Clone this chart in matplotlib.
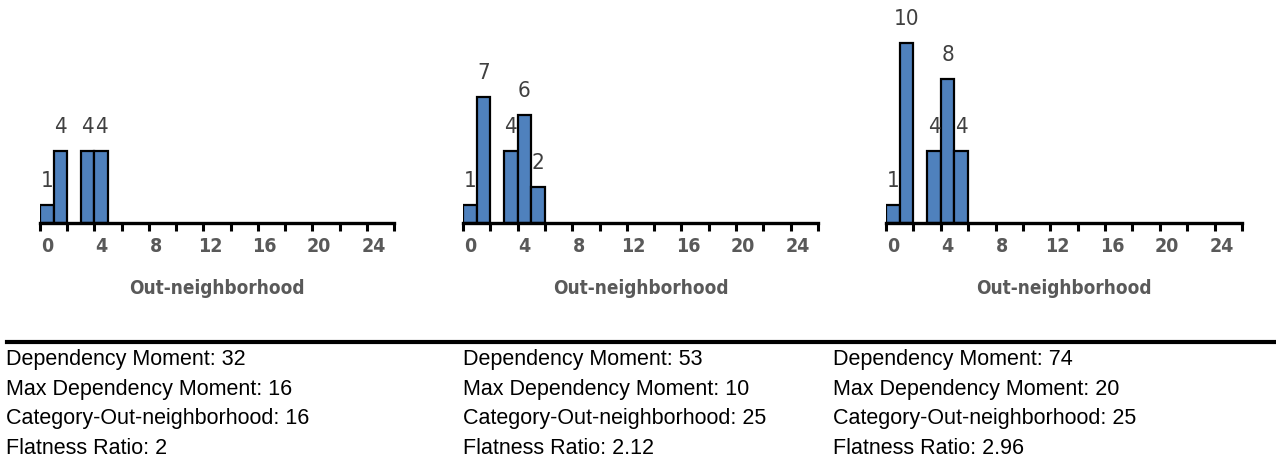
import numpy as np
import matplotlib.pyplot as plt
from matplotlib import font_manager

# --- data ---
categories = np.arange(0, 26)
counts_a = {0: 1, 1: 4, 3: 4, 4: 4}
counts_b = {0: 1, 1: 7, 3: 4, 4: 6, 5: 2}
counts_c = {0: 1, 1: 10, 3: 4, 4: 8, 5: 4}
tick_labels = [0, 4, 8, 12, 16, 20, 24]

dep_moment = [32, 53, 74]
max_dep_moment = [16, 10, 20]
cat_out = [16, 25, 25]
flatness = ['2', '2.12', '2.96']

plt.rcParams['font.family'] = ['Liberation Sans', 'DejaVu Sans']


# the chart's axis text is a narrow sans; use a condensed face if one is installed
def find_narrow(bold):
    for f in font_manager.fontManager.ttflist:
        is_narrow = ('Narrow' in f.name or 'Condensed' in f.name
                     or f.stretch in ('condensed', 'semi-condensed'))
        is_bold = (f.weight in ('bold', 700) or str(f.weight) == '700')
        if is_narrow and is_bold == bold and 'Mono' not in f.name and f.style == 'normal':
            return f.fname
    return None


def narrow_font(size, bold=False):
    path = find_narrow(bold)
    if path:
        return font_manager.FontProperties(fname=path, size=size)
    return font_manager.FontProperties(family='Liberation Sans', size=size,
                                       weight='bold' if bold else 'normal')


W, H = 1276, 469
fig = plt.figure(figsize=(W / 100, H / 100), dpi=100)


def px_axes(x0, x1, y_top, y_bot):
    return fig.add_axes([x0 / W, 1 - y_bot / H, (x1 - x0) / W, (y_bot - y_top) / H])


def draw_hist(ax, counts):
    vals = np.array([counts.get(c, 0) for c in categories])
    shown = vals > 0
    ax.bar(categories[shown], vals[shown], width=1.0, color='#4F81BD',
           edgecolor='black', linewidth=1.6, zorder=2)
    for c, v in zip(categories[shown], vals[shown]):
        ax.annotate(str(v), (c, v), xytext=(0, 17), textcoords='offset points',
                    ha='center', va='center', color='#404040',
                    fontproperties=narrow_font(16))
    ax.set_xlim(-0.5, 25.5)
    ax.set_ylim(0, 12)
    for s in ['top', 'right', 'left']:
        ax.spines[s].set_visible(False)
    ax.spines['bottom'].set_linewidth(2.4)
    ax.set_yticks([])
    ax.set_xticks(tick_labels)
    ax.set_xticklabels([str(t) for t in tick_labels], color='#595959',
                       fontproperties=narrow_font(14, bold=True))
    ax.set_xticks(np.arange(-0.5, 26, 2), minor=True)
    ax.tick_params(axis='x', which='major', length=0, pad=10)
    ax.tick_params(axis='x', which='minor', length=6, width=2.2, direction='out')
    ax.set_xlabel('Out-neighborhood', color='#595959',
                  fontproperties=narrow_font(13.6, bold=True), labelpad=17)


ax1 = px_axes(40, 394, 7, 223)
ax2 = px_axes(463, 818, 7, 223)
ax3 = px_axes(886, 1242, 7, 223)
for ax, counts in zip([ax1, ax2, ax3], [counts_a, counts_b, counts_c]):
    draw_hist(ax, counts)

# separator line and summary text
fig.add_artist(plt.Line2D([7 / W, 1.0], [1 - 342 / H, 1 - 342 / H],
                          color='black', linewidth=3))
col_x = [6, 463, 833]
row_y = [359, 389, 418, 448]
for i in range(3):
    lines = [f'Dependency Moment: {dep_moment[i]}',
             f'Max Dependency Moment: {max_dep_moment[i]}',
             f'Category-Out-neighborhood: {cat_out[i]}',
             f'Flatness Ratio: {flatness[i]}']
    for y, t in zip(row_y, lines):
        fig.text(col_x[i] / W, 1 - y / H, t, ha='left', va='center',
                 fontsize=15.5, color='black')

fig.savefig('out.png', dpi=100)
